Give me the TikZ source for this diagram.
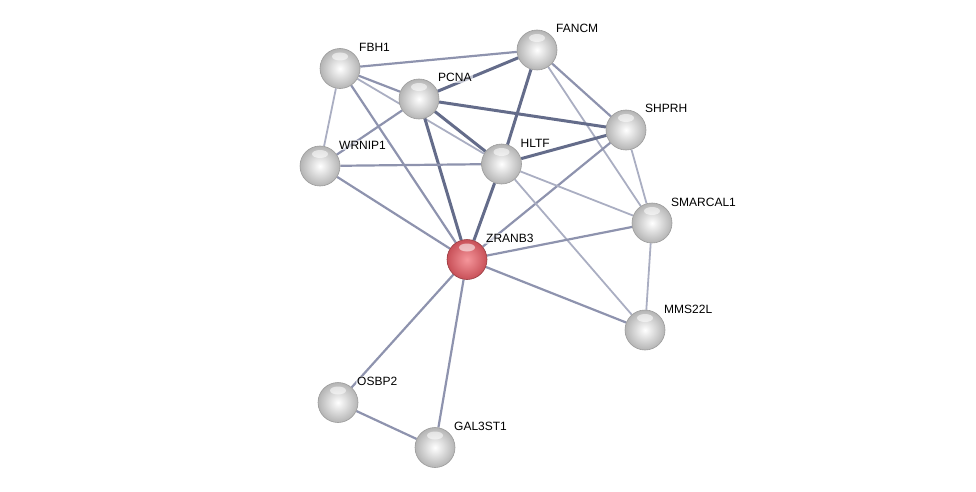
\documentclass[tikz,border=0pt]{standalone}
\usepackage{fontspec}
\setmainfont{Liberation Sans}
\usetikzlibrary{calc,backgrounds}
\begin{document}
\begin{tikzpicture}[x=1pt,y=-1pt,
  edgeA/.style={line width=3pt, color={rgb,255:red,100;green,108;blue,138}},
  edgeB/.style={line width=2.2pt, color={rgb,255:red,142;green,147;blue,174}},
  edgeC/.style={line width=1.8pt, color={rgb,255:red,170;green,174;blue,194}},
  prot/.style={circle, minimum size=40pt, inner sep=0pt, draw={rgb,255:red,155;green,155;blue,155}, line width=0.6pt,
     shade, inner color=white, outer color={rgb,255:red,180;green,180;blue,180}},
  seed/.style={circle, minimum size=40pt, inner sep=0pt, draw={rgb,255:red,150;green,60;blue,65}, line width=0.6pt,
     shade, inner color={rgb,255:red,245;green,150;blue,155}, outer color={rgb,255:red,200;green,80;blue,88}},
  glint/.style={white, opacity=0.55},
  lab/.style={anchor=base west, font=\fontsize{12}{14}\selectfont, inner sep=1pt, fill=white, fill opacity=0.6, text opacity=1}
]
\useasboundingbox (0,0) rectangle (976,492);
\coordinate (cFBH1) at (340,68.5);
\coordinate (cFANCM) at (537,50);
\coordinate (cPCNA) at (419,99);
\coordinate (cSHPRH) at (626,130);
\coordinate (cWRNIP1) at (320,166);
\coordinate (cHLTF) at (501.5,164);
\coordinate (cSMARCAL1) at (652,223);
\coordinate (cZRANB3) at (467,259.5);
\coordinate (cMMS22L) at (645,330);
\coordinate (cOSBP2) at (338,402.5);
\coordinate (cGAL3ST1) at (435,447.5);

% nodes
\foreach \n in {FBH1,FANCM,PCNA,SHPRH,WRNIP1,HLTF,SMARCAL1,MMS22L,OSBP2,GAL3ST1}{
  \node[prot] (\n) at (c\n) {};
  \fill[glint] ($(c\n)+(0,-12)$) ellipse (8pt and 4pt);
  \node[lab] (l\n) at ($(c\n)+(18,-17)$) {\n};
}
\node[seed] (ZRANB3) at (cZRANB3) {};
\fill[glint] ($(cZRANB3)+(0,-12)$) ellipse (8pt and 4pt);
\node[lab] (lZRANB3) at ($(cZRANB3)+(18,-17)$) {ZRANB3};

% edges
\begin{scope}[on background layer]
\draw[edgeB] (FBH1) -- (FANCM);
\draw[edgeB] (FBH1) -- (PCNA);
\draw[edgeC] (FBH1) -- (WRNIP1);
\draw[edgeC] (FBH1) -- (HLTF);
\draw[edgeB] (FBH1) -- (ZRANB3);
\draw[edgeA] (FANCM) -- (PCNA);
\draw[edgeA] (FANCM) -- (HLTF);
\draw[edgeB] (FANCM) -- (SHPRH);
\draw[edgeC] (FANCM) -- (SMARCAL1);
\draw[edgeA] (PCNA) -- (SHPRH);
\draw[edgeB] (PCNA) -- (WRNIP1);
\draw[edgeA] (PCNA) -- (HLTF);
\draw[edgeA] (PCNA) -- (ZRANB3);
\draw[edgeA] (SHPRH) -- (HLTF);
\draw[edgeC] (SHPRH) -- (SMARCAL1);
\draw[edgeB] (SHPRH) -- (ZRANB3);
\draw[edgeB] (WRNIP1) -- (HLTF);
\draw[edgeB] (WRNIP1) -- (ZRANB3);
\draw[edgeA] (HLTF) -- (ZRANB3);
\draw[edgeC] (HLTF) -- (SMARCAL1);
\draw[edgeC] (HLTF) -- (MMS22L);
\draw[edgeB] (SMARCAL1) -- (ZRANB3);
\draw[edgeC] (SMARCAL1) -- (MMS22L);
\draw[edgeB] (ZRANB3) -- (MMS22L);
\draw[edgeB] (ZRANB3) -- (OSBP2);
\draw[edgeB] (ZRANB3) -- (GAL3ST1);
\draw[edgeB] (OSBP2) -- (GAL3ST1);
\end{scope}
\end{tikzpicture}
\end{document}
